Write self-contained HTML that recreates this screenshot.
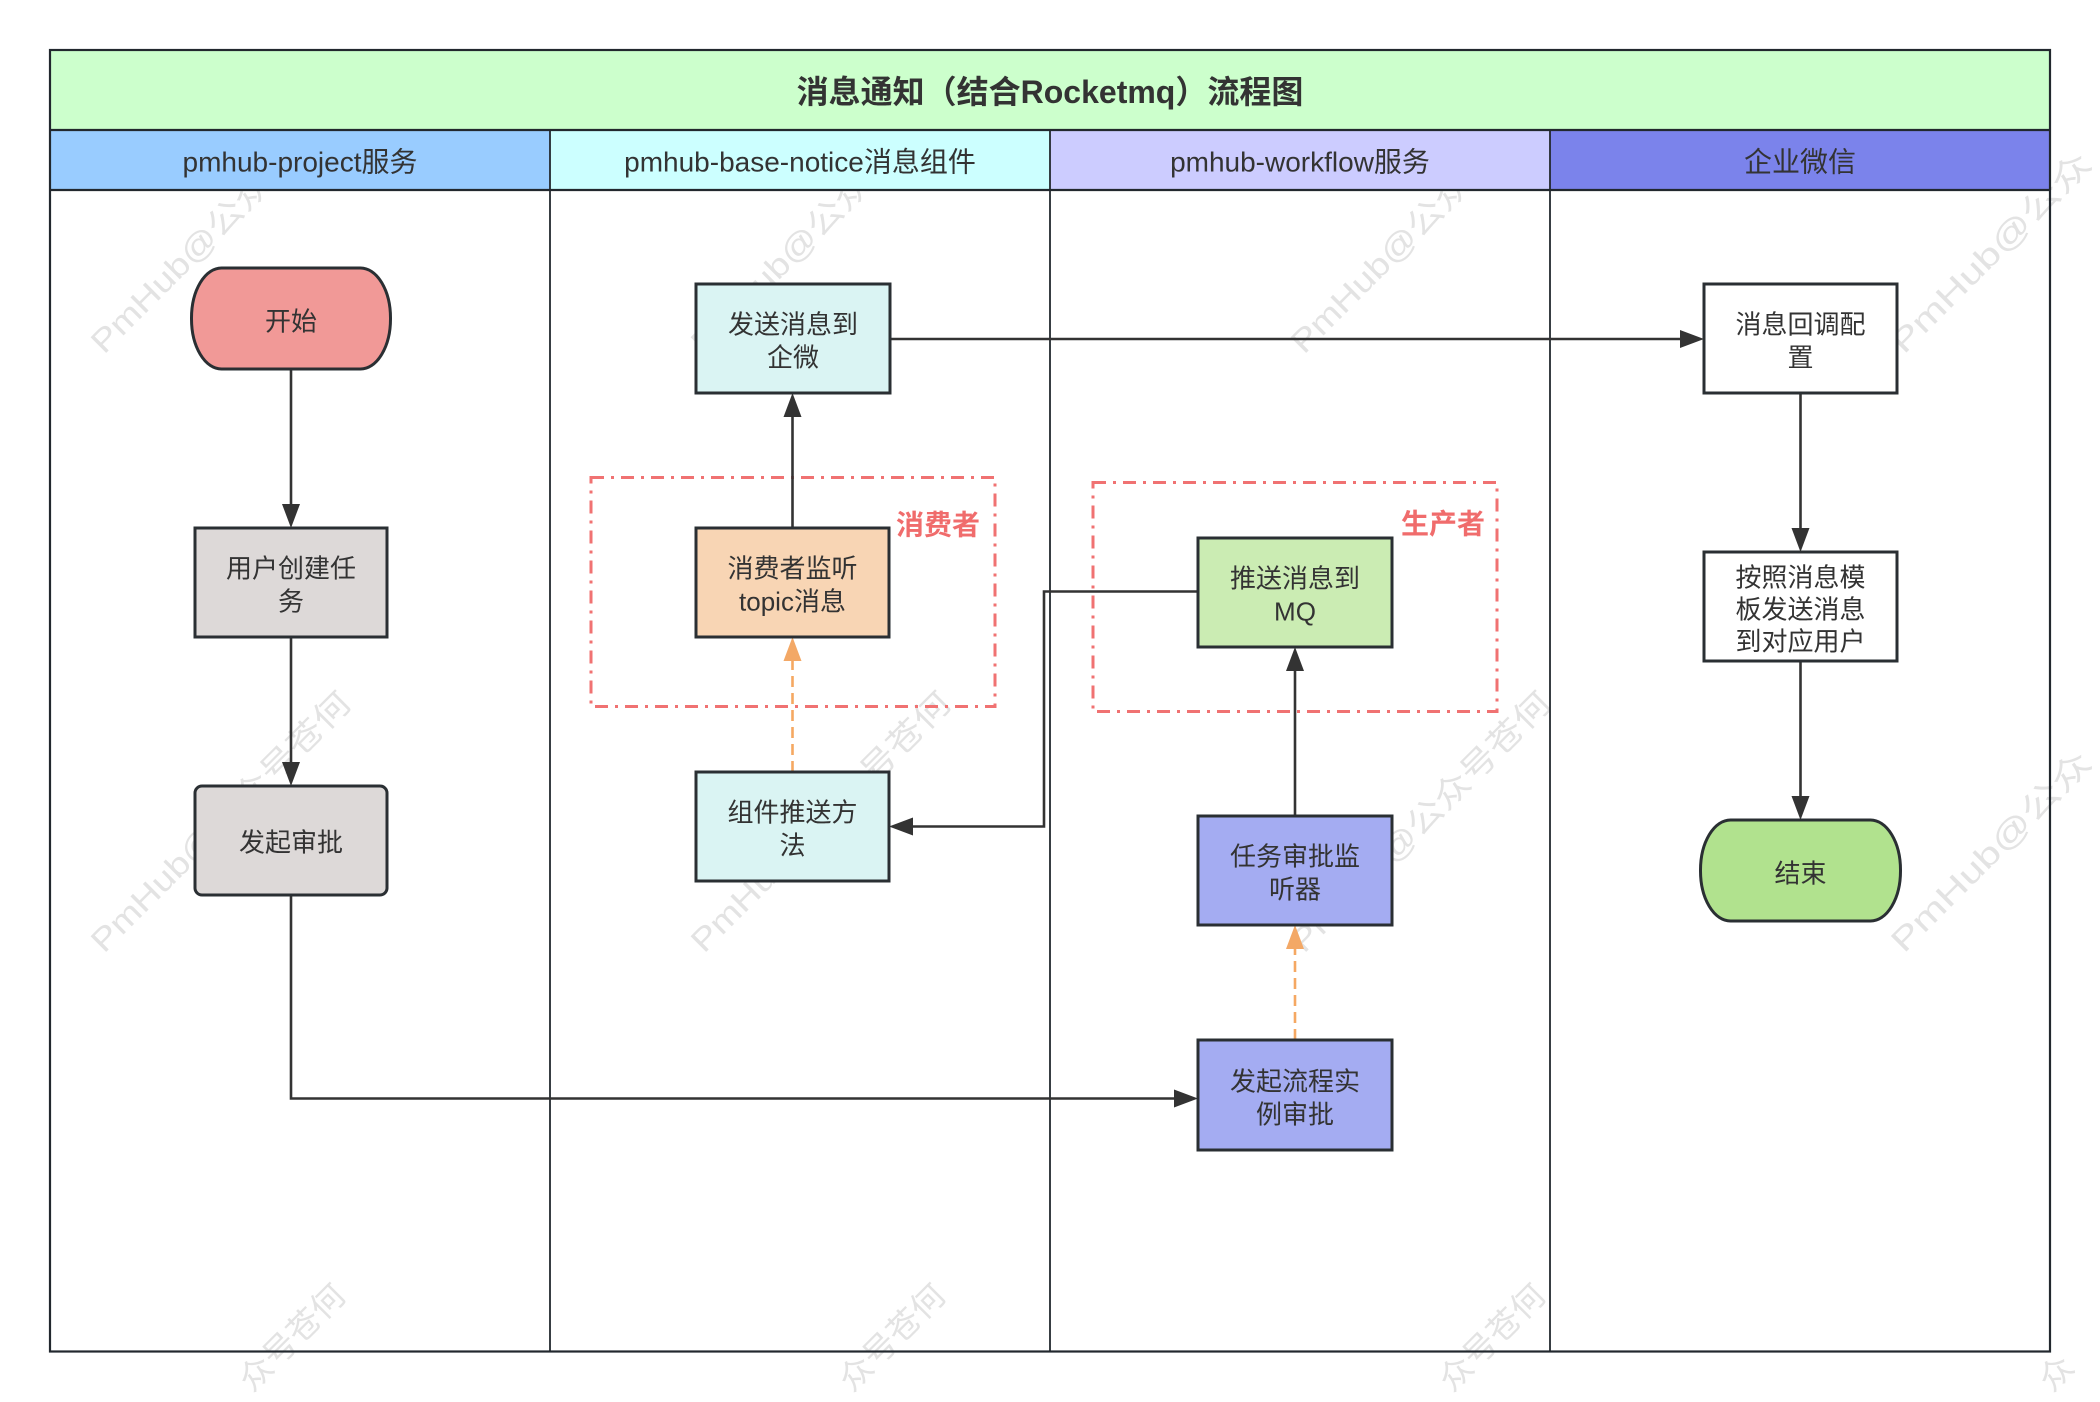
<!DOCTYPE html>
<html>
<head>
<meta charset="utf-8">
<style>
html,body{margin:0;padding:0;background:#fff;width:2100px;height:1402px;overflow:hidden;}
#wrap{width:2100px;height:1402px;overflow:hidden;position:relative;}
svg{display:block;overflow:hidden;}
text{font-family:"Liberation Sans","Noto Sans CJK SC","WenQuanYi Zen Hei",sans-serif;}
</style>
</head>
<body>
<div id="wrap">
<svg width="2100" height="1402" viewBox="0 0 2100 1402" xmlns="http://www.w3.org/2000/svg">
<rect x="0" y="0" width="2100" height="1402" fill="#ffffff"/>

<!-- watermarks -->
<g fill="#e3e3e3" font-size="32">
  <text x="104" y="355" transform="rotate(-45 104 355)" textLength="352" lengthAdjust="spacingAndGlyphs">PmHub@公众号苍何</text>
  <text x="704" y="355" transform="rotate(-45 704 355)" textLength="352" lengthAdjust="spacingAndGlyphs">PmHub@公众号苍何</text>
  <text x="1304" y="355" transform="rotate(-45 1304 355)" textLength="352" lengthAdjust="spacingAndGlyphs">PmHub@公众号苍何</text>
  <text x="1904" y="355" transform="rotate(-45 1904 355)" textLength="268" lengthAdjust="spacingAndGlyphs">PmHub@公众</text>
  <text x="104" y="954" transform="rotate(-45 104 954)" textLength="352" lengthAdjust="spacingAndGlyphs">PmHub@公众号苍何</text>
  <text x="704" y="954" transform="rotate(-45 704 954)" textLength="352" lengthAdjust="spacingAndGlyphs">PmHub@公众号苍何</text>
  <text x="1304" y="954" transform="rotate(-45 1304 954)" textLength="352" lengthAdjust="spacingAndGlyphs">PmHub@公众号苍何</text>
  <text x="1904" y="954" transform="rotate(-45 1904 954)" textLength="268" lengthAdjust="spacingAndGlyphs">PmHub@公众</text>
  <text x="252" y="1393" transform="rotate(-45 252 1393)" textLength="135" lengthAdjust="spacingAndGlyphs">众号苍何</text>
  <text x="852" y="1393" transform="rotate(-45 852 1393)" textLength="135" lengthAdjust="spacingAndGlyphs">众号苍何</text>
  <text x="1452" y="1393" transform="rotate(-45 1452 1393)" textLength="135" lengthAdjust="spacingAndGlyphs">众号苍何</text>
  <text x="2052" y="1393" transform="rotate(-45 2052 1393)" textLength="34" lengthAdjust="spacingAndGlyphs">众</text>
</g>

<!-- title & headers -->
<rect x="50" y="50" width="2000" height="80" fill="#ccffcc"/>
<rect x="50" y="130" width="500" height="60" fill="#99ccff"/>
<rect x="550" y="130" width="500" height="60" fill="#ccffff"/>
<rect x="1050" y="130" width="500" height="60" fill="#ccccff"/>
<rect x="1550" y="130" width="500" height="60" fill="#7b83eb"/>

<g stroke="#22282e" fill="none">
  <rect x="50" y="50" width="2000" height="1301.5" stroke-width="2.2"/>
  <line x1="50" y1="130" x2="2050" y2="130" stroke-width="2.2"/>
  <line x1="50" y1="190" x2="2050" y2="190" stroke-width="2.2"/>
  <line x1="550" y1="130" x2="550" y2="1351.5" stroke-width="1.8"/>
  <line x1="1050" y1="130" x2="1050" y2="1351.5" stroke-width="1.8"/>
  <line x1="1550" y1="130" x2="1550" y2="1351.5" stroke-width="1.8"/>
</g>

<text x="1050" y="92" font-size="32" font-weight="bold" fill="#333" text-anchor="middle" dominant-baseline="central">消息通知（结合Rocketmq）流程图</text>
<g font-size="28" fill="#333" text-anchor="middle" dominant-baseline="central">
  <text x="300" y="162">pmhub-project服务</text>
  <text x="800" y="162">pmhub-base-notice消息组件</text>
  <text x="1300" y="162">pmhub-workflow服务</text>
  <text x="1800" y="162">企业微信</text>
</g>

<!-- dash-dot group boxes -->
<g fill="none" stroke="#f07272" stroke-width="3" stroke-dasharray="13 7 3 7">
  <rect x="591" y="477.5" width="404" height="229"/>
  <rect x="1093" y="482.5" width="404" height="229"/>
</g>
<g font-size="28" font-weight="bold" fill="#f06c6c" text-anchor="middle" dominant-baseline="central">
  <text x="938" y="525">消费者</text>
  <text x="1443" y="524">生产者</text>
</g>

<!-- connectors -->
<g stroke="#333" stroke-width="2.6" fill="none">
  <line x1="291" y1="369" x2="291" y2="506"/>
  <line x1="291" y1="637" x2="291" y2="764"/>
  <polyline points="291,895 291,1098.5 1176,1098.5"/>
  <line x1="1295" y1="816" x2="1295" y2="669"/>
  <polyline points="1198,591.5 1044,591.5 1044,826.5 911,826.5"/>
  <line x1="792.5" y1="528" x2="792.5" y2="415"/>
  <line x1="890" y1="339" x2="1682" y2="339"/>
  <line x1="1800.5" y1="393" x2="1800.5" y2="530"/>
  <line x1="1800.5" y1="661" x2="1800.5" y2="798"/>
</g>
<g stroke="#f5a862" stroke-width="2.6" fill="none" stroke-dasharray="11 6">
  <line x1="1295" y1="1040" x2="1295" y2="947"/>
  <line x1="792.5" y1="772" x2="792.5" y2="659"/>
</g>
<g fill="#333">
  <polygon points="282,504 300,504 291,528"/>
  <polygon points="282,762 300,762 291,786"/>
  <polygon points="1174,1089.5 1174,1107.5 1198,1098.5"/>
  <polygon points="1286,671 1304,671 1295,647"/>
  <polygon points="913,817.5 913,835.5 889,826.5"/>
  <polygon points="783.5,417 801.5,417 792.5,393"/>
  <polygon points="1680,330 1680,348 1704,339"/>
  <polygon points="1791.5,528 1809.5,528 1800.5,552"/>
  <polygon points="1791.5,796 1809.5,796 1800.5,820"/>
</g>
<g fill="#f3a866">
  <polygon points="1286,949 1304,949 1295,925"/>
  <polygon points="783.5,661 801.5,661 792.5,637"/>
</g>

<!-- nodes -->
<g stroke="#2a2f33" stroke-width="3">
  <rect x="191.5" y="268" width="199" height="101" rx="30" ry="50" fill="#f19997"/>
  <rect x="195" y="528" width="192" height="109" fill="#ddd9d8"/>
  <rect x="195" y="786" width="192" height="109" rx="7" ry="7" fill="#ddd9d8"/>
  <rect x="696" y="284" width="194" height="109" fill="#daf4f3"/>
  <rect x="696" y="528" width="193" height="109" fill="#f8d5b4"/>
  <rect x="696" y="772" width="193" height="109" fill="#daf4f3"/>
  <rect x="1198" y="538" width="194" height="109" fill="#cbecb3"/>
  <rect x="1198" y="816" width="194" height="109" fill="#a4acf2"/>
  <rect x="1198" y="1040" width="194" height="110" fill="#a4acf2"/>
  <rect x="1704" y="284" width="193" height="109" fill="#ffffff"/>
  <rect x="1704" y="552" width="193" height="109" fill="#ffffff"/>
  <rect x="1700.5" y="820" width="200" height="101" rx="30" ry="50" fill="#b1e28e"/>
</g>

<g font-size="26" fill="#333" text-anchor="middle" dominant-baseline="central">
  <text x="291" y="321.5">开始</text>
  <text x="291" y="568.5">用户创建任</text>
  <text x="291" y="601.5">务</text>
  <text x="291" y="842.5">发起审批</text>
  <text x="793" y="324.5">发送消息到</text>
  <text x="793" y="357.5">企微</text>
  <text x="792.5" y="568.5">消费者监听</text>
  <text x="792.5" y="601.5">topic消息</text>
  <text x="792.5" y="812.5">组件推送方</text>
  <text x="792.5" y="845.5">法</text>
  <text x="1295" y="578.5">推送消息到</text>
  <text x="1295" y="611.5">MQ</text>
  <text x="1295" y="856.5">任务审批监</text>
  <text x="1295" y="889.5">听器</text>
  <text x="1295" y="1081.5">发起流程实</text>
  <text x="1295" y="1114.5">例审批</text>
  <text x="1800.5" y="324.5">消息回调配</text>
  <text x="1800.5" y="357.5">置</text>
  <text x="1800.5" y="577.5">按照消息模</text>
  <text x="1800.5" y="609.5">板发送消息</text>
  <text x="1800.5" y="641.5">到对应用户</text>
  <text x="1800.5" y="873.5">结束</text>
</g>
</svg>
</div>
</body>
</html>
